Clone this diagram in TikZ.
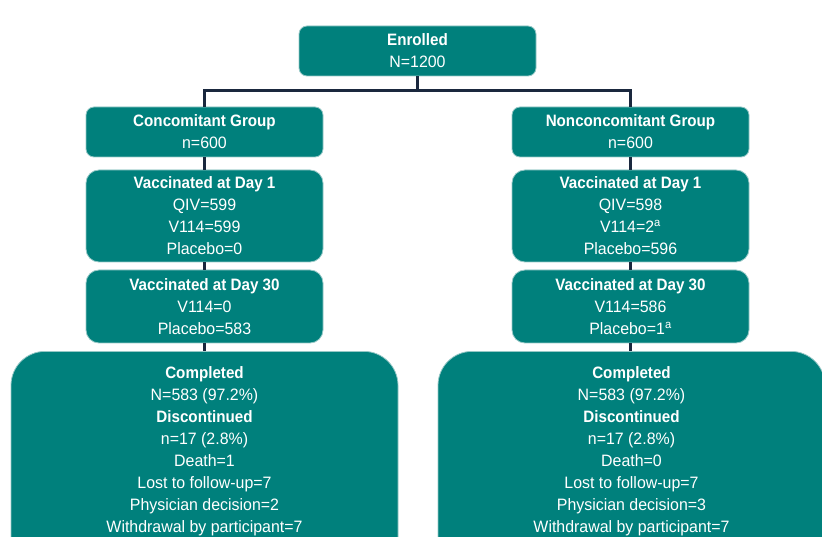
\documentclass[tikz,border=0pt]{standalone}
\usepackage{fontspec}
\setmainfont{Liberation Sans}[UprightFeatures={FakeStretch=0.965}, BoldFeatures={FakeStretch=0.92}]
\definecolor{boxteal}{RGB}{0,128,124}
\definecolor{boxedge}{RGB}{150,200,198}
\definecolor{linenavy}{RGB}{26,40,62}
\tikzset{
  fbox/.style={fill=boxteal, draw=boxedge, line width=0.8pt, text=white,
    align=center, inner sep=0pt, font=\fontsize{16.5}{22}\selectfont},
  smallbox/.style={fbox, rounded corners=8pt, minimum width=237pt},
  midbox/.style={fbox, rounded corners=13pt, minimum width=237pt},
  bigbox/.style={fbox, rounded corners=34pt, minimum width=387pt, minimum height=240pt, anchor=north},
  boxtext/.style={text=white, align=center, inner sep=0pt, anchor=north,
    font=\fontsize{16.5}{22}\selectfont},
  conn/.style={draw=linenavy, line width=2.5pt}
}
\begin{document}
\begin{tikzpicture}[x=1pt,y=-1pt]
\useasboundingbox (0,0) rectangle (822,537);
\node[smallbox, minimum height=50pt] (en) at (417.5,51) {\textbf{Enrolled}\\N=1200};
\node[smallbox, minimum height=50pt] (lg) at (204.5,132) {\textbf{Concomitant Group}\\n=600};
\node[smallbox, minimum height=50pt] (rg) at (630.5,132) {\textbf{Nonconcomitant Group}\\n=600};
\node[midbox, minimum height=92pt] (l1) at (204.5,216) {\textbf{Vaccinated at Day 1}\\QIV=599\\V114=599\\Placebo=0};
\node[midbox, minimum height=92pt] (r1) at (630.5,216) {\textbf{Vaccinated at Day 1}\\QIV=598\\V114=2\textsuperscript{a}\\Placebo=596};
\node[midbox, minimum height=73pt] (l2) at (204.5,306.5) {\textbf{Vaccinated at Day 30}\\V114=0\\Placebo=583};
\node[midbox, minimum height=73pt] (r2) at (630.5,306.5) {\textbf{Vaccinated at Day 30}\\V114=586\\Placebo=1\textsuperscript{a}};
\node[bigbox] (lc) at (204.5,351) {};
\node[bigbox] (rc) at (631.5,351) {};
\node[boxtext] (lct) at (204.5,366.2) {\textbf{Completed}\\N=583 (97.2\%)\\\textbf{Discontinued}\\n=17 (2.8\%)\\Death=1\\Lost to follow-up=7\\Physician decision=2\\Withdrawal by participant=7};
\node[boxtext] (rct) at (631.5,366.2) {\textbf{Completed}\\N=583 (97.2\%)\\\textbf{Discontinued}\\n=17 (2.8\%)\\Death=0\\Lost to follow-up=7\\Physician decision=3\\Withdrawal by participant=7};
\draw[conn] (en.south) -- ++(0,14) coordinate (split) -| (lg.north);
\draw[conn] (split) -| (rg.north);
\draw[conn] (lg.south) -- (l1.north);
\draw[conn] (rg.south) -- (r1.north);
\draw[conn] (l1.south) -- (l2.north);
\draw[conn] (r1.south) -- (r2.north);
\draw[conn] (l2.south) -- (lc.north);
\draw[conn] (r2.south) -- (r2.south |- rc.north);
\end{tikzpicture}
\end{document}
